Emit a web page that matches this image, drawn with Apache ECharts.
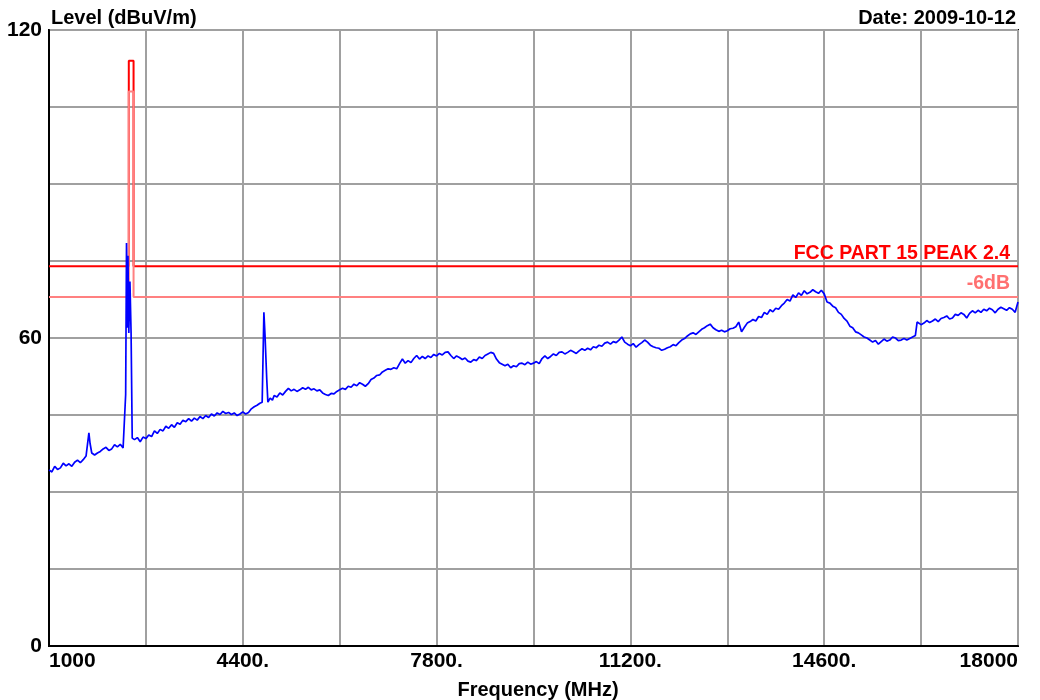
<!DOCTYPE html>
<html>
<head>
<meta charset="utf-8">
<script src="https://cdn.jsdelivr.net/npm/echarts@6/dist/echarts.min.js"></script>
<style>
html,body{margin:0;padding:0;background:#fff;}
#chart{width:1040px;height:700px;}
</style>
</head>
<body>
<div id="chart"></div>
<script>
// ---- Data ----
const freqs = [
 1000,1050,1100,1150,1200,1250,1300,1350,1400,1450,
 1500,1550,1600,1650,1680,1700,1720,1750,1800,1850,
 1900,1950,2000,2050,2100,2150,2200,2250,2300,2330,
 2345,2360,2375,2385,2400,2420,2440,2460,2500,2550,
 2600,2650,2700,2750,2800,2850,2900,2950,3000,3050,
 3100,3150,3200,3250,3300,3350,3400,3450,3500,3550,
 3600,3650,3700,3750,3800,3850,3900,3950,4000,4050,
 4100,4150,4200,4250,4300,4350,4400,4450,4500,4550,
 4600,4650,4700,4740,4770,4790,4820,4840,4880,4920,
 4950,5000,5050,5100,5150,5200,5250,5300,5350,5400,
 5450,5500,5550,5600,5650,5700,5750,5800,5850,5900,
 5950,6000,6050,6100,6150,6200,6250,6300,6350,6400,
 6450,6500,6550,6600,6650,6700,6750,6800,6850,6900,
 6950,7000,7050,7100,7150,7200,7250,7300,7350,7400,
 7450,7500,7550,7600,7650,7700,7750,7800,7850,7900,
 7950,8000,8050,8100,8150,8200,8250,8300,8350,8400,
 8450,8500,8550,8600,8650,8700,8750,8800,8850,8900,
 8950,9000,9050,9100,9150,9200,9250,9300,9350,9400,
 9450,9500,9550,9600,9650,9700,9750,9800,9850,9900,
 9950,10000,10050,10100,10150,10200,10250,10300,10350,10400,
 10450,10500,10550,10600,10650,10700,10750,10800,10850,10900,
 10950,11000,11050,11100,11150,11200,11250,11300,11350,11400,
 11450,11500,11550,11600,11650,11700,11750,11800,11850,11900,
 11950,12000,12050,12100,12150,12200,12250,12300,12350,12400,
 12450,12500,12550,12600,12650,12700,12750,12800,12850,12900,
 12950,13000,13050,13100,13150,13200,13250,13300,13350,13400,
 13450,13500,13550,13600,13650,13700,13750,13800,13850,13900,
 13950,14000,14050,14100,14150,14200,14250,14300,14350,14400,
 14450,14500,14550,14600,14650,14700,14750,14800,14850,14900,
 14950,15000,15050,15100,15150,15200,15250,15300,15350,15400,
 15450,15500,15550,15600,15650,15700,15750,15800,15850,15900,
 15950,16000,16050,16100,16150,16200,16230,16300,16350,16400,
 16450,16500,16550,16600,16650,16700,16750,16800,16850,16900,
 16950,17000,17050,17100,17150,17200,17250,17300,17350,17400,
 17450,17500,17550,17600,17650,17700,17750,17800,17850,17900,
 17950,18000
];
const levels = [
 34.3,33.9,35.0,34.4,34.7,35.6,35.1,35.5,35.0,35.8,
 36.2,35.7,36.3,37.0,37.2,41.5,39.5,37.6,37.2,37.6,
 37.9,38.4,38.7,38.1,38.4,39.2,38.8,39.3,38.6,38.9,
 49.0,78.5,62.0,76.0,61.0,71.0,61.0,40.5,40.2,40.6,
 39.8,40.7,40.4,41.1,40.8,41.9,41.4,42.2,41.9,42.8,
 42.4,43.1,42.6,43.5,43.2,44.0,43.7,44.3,43.8,44.4,
 44.0,44.7,44.3,44.9,44.5,45.2,44.8,45.4,45.1,45.7,
 45.3,45.5,45.1,45.4,44.9,45.2,45.6,45.2,45.5,46.2,
 46.6,46.9,47.3,47.5,65.0,60.5,52.0,47.5,48.3,47.9,
 48.8,48.5,49.3,48.9,49.6,50.2,49.7,50.0,49.6,49.9,
 50.3,50.0,50.4,49.9,50.1,49.7,49.9,49.3,49.0,48.8,
 49.2,49.1,49.6,49.9,50.2,50.0,50.6,50.4,51.0,50.7,
 51.3,51.0,50.6,51.1,51.9,52.2,52.7,52.8,53.4,53.7,
 54.0,53.9,54.2,54.0,55.0,55.9,55.1,55.6,55.2,56.0,
 56.6,55.9,56.4,56.0,56.5,56.2,56.8,56.5,57.0,56.7,
 57.2,57.3,56.6,56.0,56.5,56.2,55.8,56.1,55.5,55.3,
 55.8,55.6,56.3,56.0,56.6,56.9,57.2,57.0,55.9,55.2,
 54.9,54.6,54.9,54.2,54.6,54.4,55.0,55.1,54.8,55.3,
 54.9,55.1,55.4,55.0,56.0,56.5,56.0,56.4,56.9,56.6,
 57.2,57.3,56.9,57.2,57.6,57.3,57.0,57.5,57.9,57.6,
 58.0,57.7,58.3,58.1,58.6,58.4,59.0,59.2,58.8,59.3,
 59.1,59.6,60.2,59.2,58.8,58.5,58.9,58.2,58.7,59.1,
 59.6,59.2,58.6,58.3,58.1,58.0,57.6,57.8,58.1,58.3,
 58.7,58.5,59.1,59.6,59.9,60.4,60.8,61.0,60.7,61.2,
 61.7,62.0,62.4,62.7,62.0,61.6,61.3,61.5,61.2,61.4,
 61.8,61.9,62.2,63.1,61.2,62.1,62.9,63.2,63.6,63.3,
 64.2,64.0,65.0,64.6,65.5,65.1,65.8,65.6,66.3,66.8,
 67.5,67.2,68.4,67.9,68.8,68.3,69.2,68.6,68.9,69.4,
 69.0,68.7,69.3,68.6,67.0,66.8,66.2,65.9,65.0,64.6,
 63.8,63.3,62.3,62.0,61.2,61.0,60.6,60.2,60.0,59.6,
 59.2,59.5,58.8,59.3,59.8,59.4,59.6,60.2,60.0,59.5,
 59.6,59.9,59.6,59.9,60.2,60.5,63.1,62.6,62.9,63.4,
 63.0,63.3,63.7,63.2,63.8,64.0,64.3,63.7,63.9,64.6,
 64.4,64.9,64.6,63.9,64.8,65.3,64.9,65.4,65.0,65.6,
 65.3,65.8,65.5,64.9,65.6,66.0,65.7,65.4,65.9,65.6,
 65.0,67.0
];
// Limit line (FCC Part 15 peak) and -6 dB margin, stepped at the 2.4 GHz band
const limitFreqs = [1000, 2400, 2400, 2483.5, 2483.5, 18000];
const limitPeak  = [74, 74, 114, 114, 74, 74];
const limitMargin = [68, 68, 108, 108, 68, 68];
const xGridValues = [1000,2700,4400,6100,7800,9500,11200,12900,14600,16300,18000];
const xLabelValues = [1000,4400,7800,11200,14600,18000];
const yLabelValues = [0,60,120];

const zip = (xs, ys) => xs.map((x, i) => [x, ys[i]]);
const FONT = '"Liberation Sans", Arial, sans-serif';

const chart = echarts.init(document.getElementById('chart'), null, {renderer: 'canvas'});
chart.setOption({
  animation: false,
  backgroundColor: '#ffffff',
  grid: {left: 49, right: 22, top: 30, bottom: 54, show: true, borderColor: '#000', borderWidth: 2, containLabel: false},
  title: [
    {text: 'Level (dBuV/m)', left: 46, top: 3, textStyle: {fontFamily: FONT, fontWeight: 'bold', fontSize: 20, color: '#000'}},
    {text: 'Date: 2009-10-12', right: 19, top: 3, textStyle: {fontFamily: FONT, fontWeight: 'bold', fontSize: 20, color: '#000'}},
    {text: 'Frequency (MHz)', left: 533, textAlign: 'center', top: 675, textStyle: {fontFamily: FONT, fontWeight: 'bold', fontSize: 20, color: '#000'}}
  ],
  xAxis: {
    type: 'value', min: 1000, max: 18000,
    axisLine: {show: true, lineStyle: {color: '#000', width: 2}},
    axisTick: {show: true, length: 0, customValues: xGridValues},
    splitLine: {show: true, lineStyle: {color: '#a0a0a0', width: 2}},
    axisLabel: {
      customValues: xLabelValues,
      alignMinLabel: 'left', alignMaxLabel: 'right',
      fontFamily: FONT, fontWeight: 'bold', fontSize: 21, color: '#000', margin: 5,
      formatter: v => (v === 1000 || v === 18000) ? String(v) : v + '.'
    }
  },
  yAxis: {
    type: 'value', min: 0, max: 120, interval: 15,
    axisLine: {show: true, lineStyle: {color: '#000', width: 2}},
    axisTick: {show: false},
    splitLine: {show: true, lineStyle: {color: '#a0a0a0', width: 2}},
    axisLabel: {
      customValues: yLabelValues,
      fontFamily: FONT, fontWeight: 'bold', fontSize: 21, color: '#000', margin: 7
    }
  },
  series: [
    {
      name: 'limit', type: 'line', data: zip(limitFreqs, limitPeak),
      symbol: 'none', lineStyle: {color: '#ff0000', width: 2}, silent: true, z: 3,
      markPoint: {
        symbol: 'circle', symbolSize: 0,
        label: {show: true, formatter: 'FCC PART 15 PEAK 2.4', position: 'left', distance: 0,
          offset: [-8, -13], fontFamily: FONT, fontWeight: 'bold', fontSize: 19.5, color: '#ff0000'},
        data: [{coord: [18000, 74]}]
      }
    },
    {
      name: 'margin', type: 'line', data: zip(limitFreqs, limitMargin),
      symbol: 'none', lineStyle: {color: '#ff8080', width: 2}, silent: true, z: 3,
      markPoint: {
        symbol: 'circle', symbolSize: 0,
        label: {show: true, formatter: '-6dB', position: 'left', distance: 0,
          offset: [-8, -13], fontFamily: FONT, fontWeight: 'bold', fontSize: 19.5, color: '#ff7070'},
        data: [{coord: [18000, 68]}]
      }
    },
    {
      name: 'level', type: 'line', data: zip(freqs, levels),
      symbol: 'none', lineStyle: {color: '#0000ff', width: 1.7}, z: 4
    }
  ]
});
</script>
</body>
</html>
